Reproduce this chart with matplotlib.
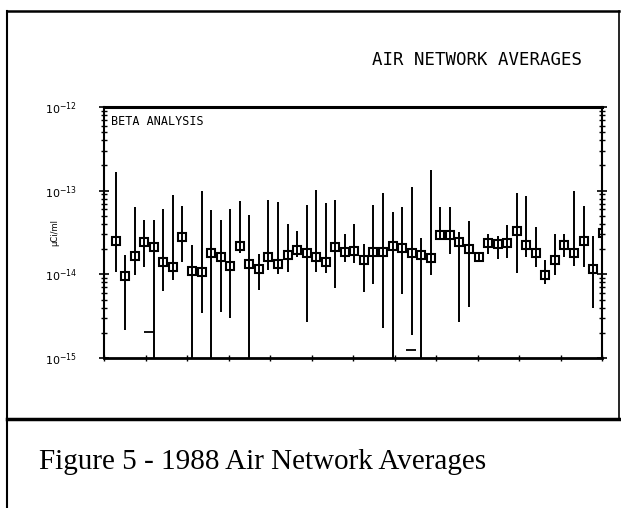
import numpy as np
import matplotlib
matplotlib.use("Agg")
import matplotlib.pyplot as plt
from matplotlib.lines import Line2D
from matplotlib.ticker import LogLocator, NullFormatter, FixedLocator

# weekly averages, 1988 (uCi/ml)
weeks = np.arange(1, 53)
mean = [2.52e-14, 9.6e-15, 1.67e-14, 2.43e-14, 2.15e-14, 1.42e-14, 1.24e-14, 2.79e-14,
        1.11e-14, 1.08e-14, 1.82e-14, 1.61e-14, 1.26e-14, 2.21e-14, 1.34e-14, 1.15e-14,
        1.59e-14, 1.34e-14, 1.68e-14, 1.93e-14, 1.82e-14, 1.61e-14, 1.42e-14, 2.12e-14,
        1.84e-14, 1.91e-14, 1.49e-14, 1.84e-14, 1.84e-14, 2.21e-14, 2.09e-14, 1.82e-14,
        1.71e-14, 1.56e-14, 2.92e-14, 2.92e-14, 2.43e-14, 2.02e-14, 1.60e-14, 2.36e-14,
        2.30e-14, 2.36e-14, 3.32e-14, 2.26e-14, 1.82e-14, 9.9e-15, 1.49e-14, 2.26e-14,
        1.82e-14, 2.52e-14, 1.15e-14, 3.11e-14]
upper = [1.67e-13, 1.71e-14, 6.3e-14, 4.5e-14, 4.5e-14, 6.1e-14, 8.8e-14, 6.6e-14,
         2.26e-14, 9.8e-14, 5.8e-14, 4.5e-14, 6.0e-14, 7.6e-14, 5.1e-14, 1.75e-14,
         7.8e-14, 7.3e-14, 3.99e-14, 3.26e-14, 6.7e-14, 1.01e-13, 7.2e-14, 7.8e-14,
         3.03e-14, 3.99e-14, 2.32e-14, 6.8e-14, 9.4e-14, 5.5e-14, 6.3e-14, 1.10e-13,
         2.71e-14, 1.78e-13, 6.4e-14, 6.4e-14, 3.2e-14, 4.37e-14, 1.87e-14, 3.05e-14,
         2.84e-14, 3.84e-14, 9.5e-14, 8.7e-14, 3.67e-14, 1.49e-14, 3.05e-14, 3.03e-14,
         9.8e-14, 6.5e-14, 2.84e-14, 3.6e-14]
lower = [1.08e-14, 2.17e-15, 9.7e-15, 1.22e-14, 5e-16, 6.4e-15, 8.6e-15, 1.42e-14,
         5e-16, 3.43e-15, 5e-16, 3.58e-15, 3.04e-15, 1.79e-14, 5e-16, 6.5e-15,
         1.13e-14, 1.01e-14, 1.08e-14, 1.59e-14, 2.72e-15, 1.08e-14, 1.03e-14, 6.8e-15,
         1.40e-14, 1.36e-14, 6.2e-15, 7.7e-15, 2.27e-15, 5e-16, 5.8e-15, 1.88e-15,
         5e-16, 9.9e-15, 2.59e-14, 1.75e-14, 2.72e-15, 4.05e-15, 1.40e-14, 1.76e-14,
         1.53e-14, 1.56e-14, 1.03e-14, 1.61e-14, 1.22e-14, 7.7e-15, 9.9e-15, 1.61e-14,
         1.27e-14, 1.22e-14, 3.94e-15, 2.7e-14]
# short horizontal marks near the bottom
dash_days = [33, 225]
dash_vals = [2.07e-15, 1.23e-15]

days = weeks * 7 + 1.5
mean = np.array(mean)
yerr = [mean - np.array(lower), np.array(upper) - mean]

fig = plt.figure(figsize=(6.21, 5.08), dpi=100)
ax = fig.add_axes([104 / 621, 1 - 358 / 508, 498 / 621, 251 / 508])

ax.errorbar(days, mean, yerr=yerr, fmt='s', ms=5.5, mfc='none', mec='black', mew=1.5,
            ecolor='black', elinewidth=1.4, capsize=0, color='black', clip_on=True)
ax.plot(dash_days, dash_vals, ls='none', marker='_', ms=7, mew=1.3, color='black')

ax.set_yscale('log')
ax.set_ylim(1e-15, 1e-12)
ax.set_xlim(0, 365)
ax.xaxis.set_major_locator(FixedLocator(np.linspace(0, 365, 13)))
ax.xaxis.set_major_formatter(NullFormatter())
ax.yaxis.set_major_locator(FixedLocator([1e-15, 1e-14, 1e-13, 1e-12]))
ax.yaxis.set_minor_locator(LogLocator(base=10, subs=np.arange(2, 10), numticks=10))
ax.yaxis.set_minor_formatter(NullFormatter())
ax.tick_params(axis='y', which='major', direction='inout', length=7, width=1.2,
               right=True, labelsize=8, pad=16)
ax.tick_params(axis='y', which='minor', direction='inout', length=5, width=1.0, right=True)
ax.tick_params(axis='x', which='major', direction='inout', length=4, width=1.0)
for s in ax.spines.values():
    s.set_linewidth(1.5)
ax.spines['top'].set_linewidth(2.2)
ax.spines['bottom'].set_linewidth(2.0)

ax.text(0.015, 0.97, 'BETA ANALYSIS', transform=ax.transAxes, ha='left', va='top',
        family='DejaVu Sans Mono', fontsize=8.5)
ax.set_ylabel('\u00b5Ci/ml', fontsize=6, labelpad=2)
ax.yaxis.set_label_coords(-0.09, 0.5)

fig.text(582 / 621, 1 - 60 / 508, 'AIR NETWORK AVERAGES', ha='right', va='center',
         family='DejaVu Sans Mono', fontsize=12.5)
fig.text(263 / 621, 1 - 462 / 508, 'Figure 5 - 1988 Air Network Averages', ha='center',
         va='center', family='Liberation Serif', fontsize=21)

# page frame
fig.add_artist(Line2D([7 / 621, 7 / 621], [0, 1 - 11 / 508], color='black', lw=1.5))
fig.add_artist(Line2D([7 / 621, 619 / 621], [1 - 11 / 508, 1 - 11 / 508], color='black', lw=1.8))
fig.add_artist(Line2D([619 / 621, 619 / 621], [1 - 11 / 508, 1 - 419 / 508], color='black', lw=1.2))
fig.add_artist(Line2D([7 / 621, 1], [1 - 419 / 508, 1 - 419 / 508], color='black', lw=2.5))

fig.savefig('out.png', dpi=100)
